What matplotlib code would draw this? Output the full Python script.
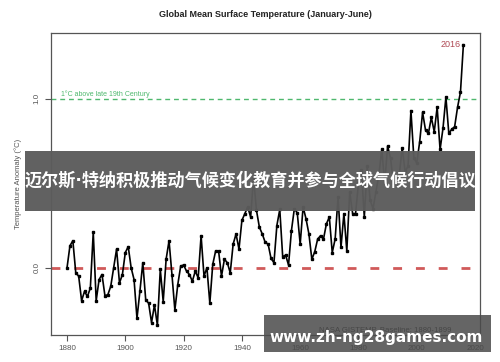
import numpy as np
import matplotlib
matplotlib.use("Agg")
import matplotlib.pyplot as plt
from matplotlib.patches import Rectangle

plt.rcParams['font.family'] = ['Liberation Sans', 'DejaVu Sans']

# Jan-Jun global mean anomaly vs 1880-1899
years = np.arange(1880, 2017)
anomaly = [
    0.00, 0.13, 0.16, -0.03, -0.05, -0.195, -0.14, -0.17, -0.12, 0.21,      # 1880s
    -0.195, -0.07, -0.04, -0.165, -0.16, -0.11, 0.00, 0.11, -0.09, -0.04,   # 1890s
    0.09, 0.125, 0.00, -0.07, -0.30, -0.14, 0.03, -0.19, -0.21, -0.325,     # 1900s
    -0.22, -0.34, -0.01, -0.20, 0.05, 0.16, -0.04, -0.25, -0.10, 0.01,      # 1910s
    0.016, -0.02, -0.04, -0.08, -0.02, -0.06, 0.19, -0.05, 0.00, -0.21,     # 1920s
    0.02, 0.10, 0.10, -0.05, 0.05, 0.03, -0.03, 0.14, 0.20, 0.11,           # 1930s
    0.28, 0.32, 0.36, 0.30, 0.535, 0.34, 0.24, 0.20, 0.15, 0.14,            # 1940s
    0.055, 0.03, 0.25, 0.345, 0.065, 0.075, 0.016, 0.22, 0.35, 0.325,       # 1950s
    0.14, 0.36, 0.29, 0.20, 0.05, 0.095, 0.17, 0.19, 0.17, 0.26,            # 1960s
    0.30, 0.09, 0.17, 0.42, 0.12, 0.32, 0.10, 0.45, 0.32, 0.32,             # 1970s
    0.50, 0.58, 0.30, 0.60, 0.40, 0.35, 0.45, 0.55, 0.70, 0.50,             # 1980s
    0.72, 0.65, 0.50, 0.50, 0.55, 0.71, 0.57, 0.60, 0.93, 0.65,             # 1990s
    0.62, 0.745, 0.92, 0.815, 0.795, 0.89, 0.805, 0.95, 0.70, 0.825,        # 2000s
    1.01, 0.795, 0.82, 0.835, 0.95, 1.04, 1.32,                             # 2010s
]
xticks = [1880, 1900, 1920, 1940, 1960, 1980, 2000, 2020]
yticks = [0.0, 1.0]
ytick_labels = ["0.0", "1.0"]

axis_grey = '#555555'

fig = plt.figure(figsize=(5.0, 3.62), dpi=100)
ax = fig.add_axes([0.102, 0.0746, 0.858, 0.834])

ax.axhline(0.0, color='#d05a5a', lw=2.0, dashes=(3.2, 5.0), zorder=1)
ax.axhline(1.0, color='#4fb86e', lw=1.0, dashes=(3.5, 2.8), zorder=1)
ax.text(1878, 1.03, "1°C above late 19th Century", color='#4fb86e',
        fontsize=5, va='center', ha='left')

ax.plot(years, anomaly, color='black', lw=1.2, marker='s', markersize=1.5,
        zorder=3)
ax.text(years[-1] - 1, anomaly[-1], str(years[-1]), color='#b04a55',
        fontsize=6.5, ha='right', va='center')

ax.set_xlim(1874.5, 2021.7)
ax.set_ylim(-0.398, 1.389)
ax.set_xticks(xticks)
ax.set_yticks(yticks)
ax.set_yticklabels(ytick_labels, rotation=90, va='center')
ax.tick_params(colors=axis_grey, labelcolor=axis_grey, labelsize=5.8,
               length=4, width=0.8)
for s in ax.spines.values():
    s.set_color(axis_grey)
    s.set_linewidth(0.9)

ax.set_ylabel("Temperature Anomaly (°C)", fontsize=5.5, color=axis_grey,
              labelpad=8)
fig.text(0.531, 0.961, "Global Mean Surface Temperature (January-June)",
         fontsize=6.5, fontweight='bold', ha='center', va='center',
         color='#222222')
fig.text(0.77, 0.091, "NASA GISTEMP, Baseline: 1880-1899", fontsize=5.6,
         ha='center', va='center', color='#333333', zorder=5)

# overlay banner across the middle
fig.patches.append(Rectangle((0.05, 0.418), 0.9, 0.166,
                             transform=fig.transFigure,
                             facecolor='#5c5c5c', alpha=0.97, zorder=10))
fig.text(0.5, 0.501, "迈尔斯·特纳积极推动气候变化教育并参与全球气候行动倡议",
         family=['DejaVu Sans', 'Noto Sans CJK SC'], fontweight='bold',
         fontsize=12.3, color='white', ha='center', va='center', zorder=11)

# watermark box bottom right
fig.patches.append(Rectangle((0.528, 0.0276), 0.454, 0.102,
                             transform=fig.transFigure,
                             facecolor='#4a4a4a', alpha=0.85, zorder=10))
fig.text(0.753, 0.069, "www.zh-ng28games.com", family='DejaVu Sans',
         fontweight='bold', fontsize=11, color='white', ha='center',
         va='center', zorder=11)

fig.savefig('out.png', dpi=100)
